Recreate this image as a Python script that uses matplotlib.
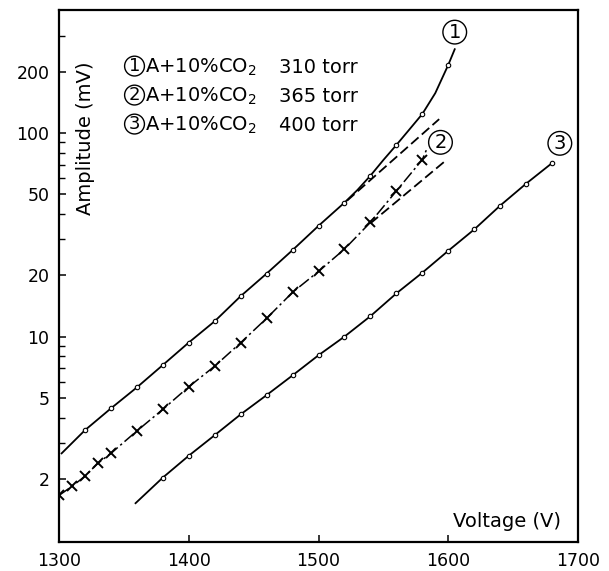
import matplotlib
matplotlib.use("Agg")
import matplotlib.pyplot as plt
from matplotlib.ticker import FixedLocator, FixedFormatter, NullFormatter

# -- DATA
# curve 1: A + 10% CO2, 310 torr  (markers every 20 V, extra line points read in between)
v1 = [1302, 1320, 1340, 1360, 1380, 1400, 1420, 1440, 1460, 1480,
      1500, 1520, 1530, 1540, 1550, 1560, 1570, 1580, 1590, 1600, 1605]
amp1 = [2.67, 3.47, 4.44, 5.63, 7.25, 9.35, 11.9, 15.8, 20.4, 26.6,
        35.0, 45.5, 52.5, 61.7, 73.7, 87.3, 104, 124, 157, 216, 258]
mark1 = [1, 2, 3, 4, 5, 6, 7, 8, 9, 10, 11, 13, 15, 17, 19]

# curve 2: A + 10% CO2, 365 torr
v2 = [1300, 1310, 1320, 1330, 1340, 1360, 1380, 1400, 1420, 1440,
      1460, 1480, 1500, 1520, 1540, 1560, 1580, 1584]
amp2 = [1.66, 1.84, 2.06, 2.39, 2.67, 3.44, 4.39, 5.67, 7.16, 9.33,
        12.3, 16.5, 20.9, 26.9, 36.4, 51.9, 74.0, 85]

# spread of curve 2 at the top (dashed)
v2_hi = [1522, 1593]
amp2_hi = [46.5, 117]
v2_lo = [1540, 1597]
amp2_lo = [36.0, 72.3]

# curve 3: A + 10% CO2, 400 torr
v3 = [1359, 1380, 1400, 1420, 1440, 1460, 1480, 1500, 1520, 1540,
      1560, 1580, 1600, 1620, 1640, 1660, 1680]
amp3 = [1.52, 2.03, 2.6, 3.28, 4.15, 5.16, 6.45, 8.1, 10.0, 12.6,
        16.3, 20.6, 26.4, 33.6, 44.0, 56.4, 71.2]

legend_rows = [("1", "310 torr"), ("2", "365 torr"), ("3", "400 torr")]
y_major = [2, 5, 10, 20, 50, 100, 200]
y_minor = [3, 4, 6, 7, 8, 9, 30, 40, 60, 70, 80, 90, 300]
x_major = [1300, 1400, 1500, 1600, 1700]

plt.rcParams["font.family"] = "DejaVu Sans"

fig = plt.figure(figsize=(6.09, 5.71), dpi=100)
ax = fig.add_axes([59 / 609, 29 / 571, 519 / 609, 532 / 571])
ax.set_yscale("log")
ax.set_xlim(1300, 1700)
ax.set_ylim(0.98, 402)

circ = dict(marker="o", markersize=3.2, markerfacecolor="white",
            markeredgecolor="black", markeredgewidth=0.8)

ax.plot(v1, amp1, color="black", lw=1.3, markevery=mark1, **circ)
ax.plot(v3, amp3, color="black", lw=1.3, markevery=slice(1, None), **circ)
ax.plot(v2, amp2, color="black", lw=1.1, linestyle=(0, (8, 2.2, 1.5, 2.2)),
        marker="x", markersize=7, markeredgewidth=1.4, markevery=slice(0, -1))
ax.plot(v2_hi, amp2_hi, color="black", lw=1.3, linestyle=(0, (5.5, 2.4)))
ax.plot(v2_lo, amp2_lo, color="black", lw=1.3, linestyle=(0, (5.5, 2.4)))

circle_box = dict(boxstyle="circle,pad=0.12", fc="white", ec="black", lw=1.0)

# curve tags
ax.text(1605, 313, "1", fontsize=14, ha="center", va="center", bbox=circle_box)
ax.text(1594, 90, "2", fontsize=14, ha="center", va="center", bbox=circle_box)
ax.text(1686, 89, "3", fontsize=14, ha="center", va="center", bbox=circle_box)

# legend block inside the axes
row_y = [0.8816, 0.8271, 0.7726]
for (num, pres), yy in zip(legend_rows, row_y):
    ax.text(0.1455, yy + 0.013, num, transform=ax.transAxes, fontsize=13,
            ha="center", va="center",
            bbox=dict(boxstyle="circle,pad=0.05", fc="white", ec="black", lw=1.0))
    ax.text(0.1657, yy, "A+10%CO$_2$", transform=ax.transAxes, fontsize=14,
            ha="left", va="baseline")
    ax.text(0.4239, yy, pres, transform=ax.transAxes, fontsize=14,
            ha="left", va="baseline")

ax.text(0.0501, 0.7594, "Amplitude (mV)", transform=ax.transAxes, fontsize=14,
        rotation=90, ha="center", va="center")
ax.text(0.7594, 0.0288, "Voltage (V)", transform=ax.transAxes, fontsize=14,
        ha="left", va="baseline")

# ticks
ax.yaxis.set_major_locator(FixedLocator(y_major))
ax.yaxis.set_major_formatter(FixedFormatter([str(v) for v in y_major]))
ax.yaxis.set_minor_locator(FixedLocator(y_minor))
ax.yaxis.set_minor_formatter(NullFormatter())
ax.xaxis.set_major_locator(FixedLocator(x_major))
ax.xaxis.set_minor_locator(FixedLocator([]))
ax.tick_params(axis="both", which="major", direction="in", length=5, width=1.1,
               labelsize=12.5, pad=7, top=False, right=False)
ax.tick_params(axis="y", which="minor", direction="in", length=4.5, width=1.0,
               right=False)
for s in ax.spines.values():
    s.set_linewidth(1.6)

fig.savefig("out.png", dpi=100)
